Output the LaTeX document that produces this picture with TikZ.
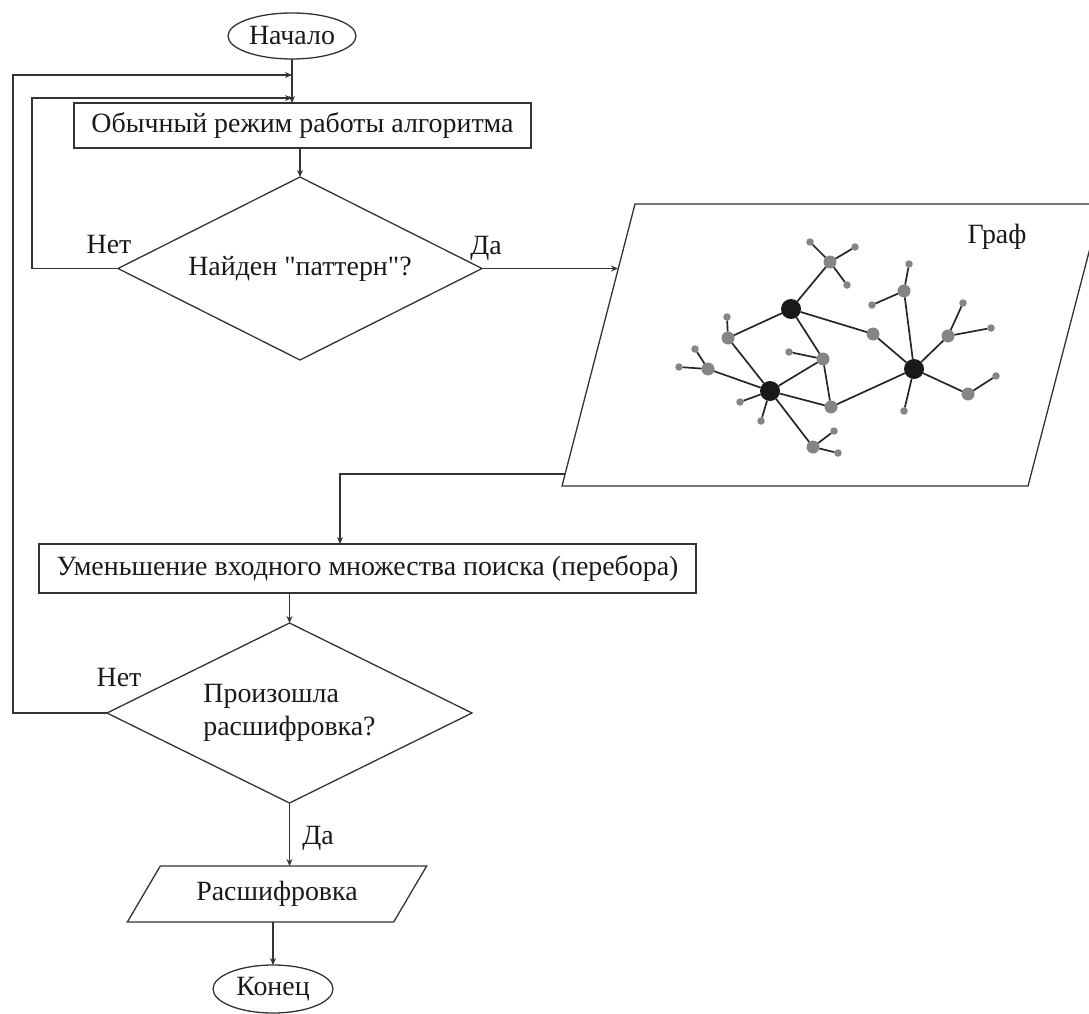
\documentclass[tikz,border=0pt]{standalone}
\usepackage{fontspec}
\setmainfont{Liberation Serif}[Ligatures=TeXOff]
\usetikzlibrary{shapes.geometric,arrows.meta,calc}
\begin{document}
\begin{tikzpicture}[x=1pt,y=-1pt,
  ln/.style={draw=black!80, line width=1.3pt},
  arr/.style={ln, -{Stealth[length=7pt,width=6pt]}},
  txt/.style={font=\fontsize{27.9}{33}\selectfont, text=black!90, inner sep=0pt},
  term/.style={ln, ellipse, txt, inner sep=0pt, outer sep=0pt},
  proc/.style={ln, rectangle, txt, outer sep=0pt},
  decision/.style={ln, diamond, txt, shape aspect=2, inner sep=0pt, outer sep=0pt},
  para/.style={ln, trapezium, trapezium stretches=true, txt, outer sep=0pt},
  gedge/.style={draw=black!85, line width=1.7pt},
  big/.style={circle, fill=black!90, minimum size=20pt, inner sep=0pt, outer sep=0pt},
  med/.style={circle, fill=black!48, minimum size=13pt, inner sep=0pt, outer sep=0pt},
  sml/.style={circle, fill=black!48, minimum size=7.5pt, inner sep=0pt, outer sep=0pt},
]
\useasboundingbox (0,0) rectangle (1089,1014);
\clip (0,0) rectangle (1089,1014);

% flowchart nodes
\node[term, minimum width=128pt, minimum height=46pt] (start) at (292,36) {Начало};
\node[proc, minimum width=457pt, minimum height=45pt] (b1) at (302.5,125.5) {Обычный режим работы алгоритма};
\node[decision, minimum width=364pt, minimum height=183pt] (d1) at (300,268.5) {Найден "паттерн"?};
\coordinate (gtl) at (635,204);
\coordinate (gtr) at (1101.5,204);
\coordinate (gbr) at (1028,486);
\coordinate (gbl) at (562,486);
\draw[ln] (gtl) -- (gtr) -- (gbr) -- (gbl) -- cycle;
\node[txt] (graflbl) at (997,237) {Граф};
\node[proc, anchor=west, minimum height=49pt, inner xsep=17.5pt] (b2) at (39,568.5) {Уменьшение входного множества поиска (перебора)};
\node[decision, minimum width=365pt, minimum height=180pt, align=left] (d2) at (289.5,713) {Произошла\\расшифровка?};
\node[para, trapezium left angle=48, trapezium right angle=132, minimum width=300pt, minimum height=56pt] (p2) at (277,894) {Расшифровка};
\node[term, minimum width=120pt, minimum height=48pt] (fin) at (273,989) {Конец};

% labels
\node[txt] (no1) at (109,245) {Нет};
\node[txt] (yes1) at (486,248) {Да};
\node[txt] (no2) at (119,677) {Нет};
\node[txt] (yes2) at (318,838) {Да};

% helper coordinates
\coordinate (m2) at (292,75);
\coordinate (m1) at (292,98);
\coordinate (gin) at (618,268.5);
\coordinate (gout) at (565,474);
\coordinate (gx) at (340,474);

% connectors
\draw[arr] (start.south) -- (start.south |- b1.north);
\draw[arr] (d1.west) -- ++(-86,0) |- (m1);
\draw[arr] (d2.west) -- ++(-94,0) |- (m2);
\draw[arr] (b1.south -| d1.north) -- (d1.north);
\draw[arr] (d1.east) -- (gin);
\draw[arr] (gout) -- (gx) -- (gx |- b2.north);
\draw[arr] (b2.south -| d2.north) -- (d2.north);
\draw[arr] (d2.south) -- (d2.south |- p2.north);
\draw[arr] (p2.south -| fin.north) -- (fin.north);

% graph
\node[big] (A) at (791,309) {};
\node[big] (B) at (770,391) {};
\node[big] (C) at (914,369) {};
\node[med] (g1) at (830,262) {};
\node[med] (g2) at (728,338) {};
\node[med] (g3) at (873,334) {};
\node[med] (g4) at (823,359) {};
\node[med] (g5) at (831,407) {};
\node[med] (g6) at (708,369) {};
\node[med] (g7) at (813,447) {};
\node[med] (g8) at (904,291) {};
\node[med] (g9) at (948,336) {};
\node[med] (g10) at (968,394) {};
\node[sml] (s1) at (810,242) {};
\node[sml] (s2) at (855,247) {};
\node[sml] (s3) at (847,285) {};
\node[sml] (s4) at (727,317) {};
\node[sml] (s5) at (789,352) {};
\node[sml] (s6) at (695,349) {};
\node[sml] (s7) at (679,367) {};
\node[sml] (s8) at (740,402) {};
\node[sml] (s9) at (761,421) {};
\node[sml] (s10) at (834,431) {};
\node[sml] (s11) at (838,453) {};
\node[sml] (s12) at (909,264) {};
\node[sml] (s13) at (872,305) {};
\node[sml] (s14) at (963,303) {};
\node[sml] (s15) at (991,328) {};
\node[sml] (s16) at (996,376) {};
\node[sml] (s17) at (904,411) {};

\draw[gedge] (A) -- (g1) (A) -- (g2) (A) -- (g3) (A) -- (g4)
  (g3) -- (C) (B) -- (g2) (B) -- (g4) (B) -- (g5) (B) -- (g6)
  (B) -- (s8) (B) -- (s9) (B) -- (g7) (g4) -- (g5) (g5) -- (C)
  (C) -- (g8) (C) -- (g9) (C) -- (g10) (C) -- (s17)
  (g1) -- (s1) (g1) -- (s2) (g1) -- (s3) (g2) -- (s4) (g4) -- (s5)
  (g6) -- (s6) (g6) -- (s7) (g7) -- (s10) (g7) -- (s11)
  (g8) -- (s12) (g8) -- (s13) (g9) -- (s14) (g9) -- (s15) (g10) -- (s16);
\end{tikzpicture}
\end{document}
